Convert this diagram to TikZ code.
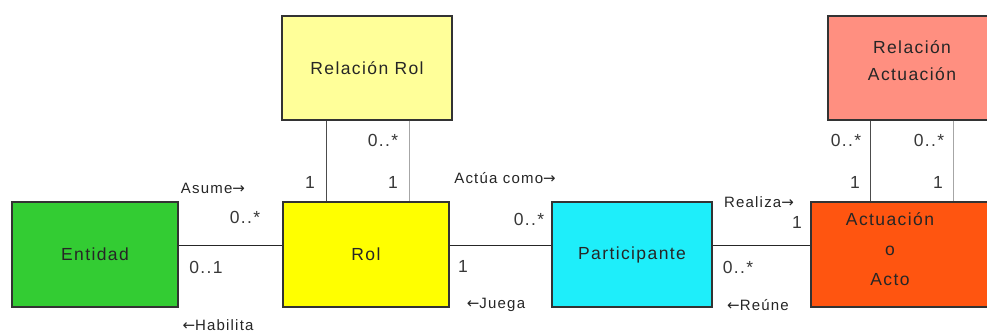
\documentclass[tikz,border=0pt]{standalone}
\usepackage{fontspec}
\setmainfont[LetterSpace=8]{Liberation Sans}
\newfontfamily\arrowfont{DejaVu Sans}
\newcommand\rarr{{\arrowfont\char"2192}}
\newcommand\larr{{\arrowfont\char"2190}}
\definecolor{entgreen}{HTML}{33CC33}
\definecolor{rolyellow}{HTML}{FFFF00}
\definecolor{partcyan}{HTML}{1EEEFA}
\definecolor{actorange}{HTML}{FF5510}
\definecolor{relyellow}{HTML}{FFFF99}
\definecolor{relsalmon}{HTML}{FF8F80}
\begin{document}
\begin{tikzpicture}[x=1pt,y=-1pt,
  classbox/.style={draw=black!80, line width=1.1pt, minimum height=105pt,
    inner sep=0pt, font=\fontsize{17.5}{20}\selectfont, text=black!85},
  boxtext/.style={inner sep=0pt, align=center, text=black!85},
  mult/.style={inner sep=0pt, font=\fontsize{17.5}{20}\selectfont, text=black!78},
  rolename/.style={inner sep=0pt, font=\fontsize{15}{18}\selectfont, text=black!85},
  assoc/.style={draw=black!85, line width=1pt},
  darkleg/.style={draw=black!70, line width=1pt},
  lightleg/.style={draw=black!35, line width=1pt}]

\useasboundingbox (0,0) rectangle (987,333);
\clip (0,0) rectangle (987,333);
\fill[white] (0,0) rectangle (987,333);

% classes
\node[classbox, fill=entgreen, minimum width=166pt] (entidad) at (95,254.5) {Entidad};
\node[classbox, fill=rolyellow, minimum width=166pt] (rol) at (366,254.5) {Rol};
\node[classbox, fill=partcyan, minimum width=160pt] (part) at (632,254.5) {Participante};
\node[classbox, fill=actorange, minimum width=190pt] (acto) at (906,254.5) {};
\node[boxtext, font=\fontsize{17.5}{30}\selectfont] (actotxt) at (890,249) {Actuación\\o\\Acto};
\node[classbox, fill=relyellow, minimum width=170pt, minimum height=104pt] (relrol) at (367,68) {Relación Rol};
\node[classbox, fill=relsalmon, minimum width=172pt, minimum height=104pt] (relact) at (914,68) {};
\node[boxtext, font=\fontsize{17.5}{27}\selectfont] (relacttxt) at (912,61) {Relación\\Actuación};

% associations
\draw[assoc] ([yshift=9.5pt]entidad.east) -- ([yshift=9.5pt]rol.west);
\draw[assoc] ([yshift=9.5pt]rol.east) -- ([yshift=9.5pt]part.west);
\draw[assoc] ([yshift=9.5pt]part.east) -- ([yshift=9.5pt]acto.west);
\draw[darkleg] ([xshift=45pt]relrol.south west) -- ([xshift=44pt]rol.north west);
\draw[lightleg] ([xshift=128pt]relrol.south west) -- ([xshift=127pt]rol.north west);
\draw[darkleg] ([xshift=43pt]relact.south west) -- ([xshift=60pt]acto.north west);
\draw[lightleg] ([xshift=126pt]relact.south west) -- ([xshift=143pt]acto.north west);

% Entidad -- Rol
\node[rolename] (asume) at (213,188) {Asume\rarr};
\node[mult] (m1) at (245,217) {0..*};
\node[mult] (m2) at (206,267) {0..1};
\node[rolename] (habilita) at (218,325) {\larr Habilita};

% Relación Rol -- Rol
\node[mult] (m3) at (310,182) {1};
\node[mult] (m4) at (393,182) {1};
\node[mult] (m5) at (383,140) {0..*};

% Rol -- Participante
\node[rolename] (actua) at (505,178) {Actúa como\rarr};
\node[mult] (m6) at (529,219) {0..*};
\node[mult] (m7) at (463,266) {1};
\node[rolename] (juega) at (496,305) {\larr Juega};

% Participante -- Actuación
\node[rolename] (realiza) at (759,202) {Realiza\rarr};
\node[mult] (m8) at (797,222) {1};
\node[mult] (m9) at (738,267) {0..*};
\node[rolename] (reune) at (758,305) {\larr Reúne};

% Relación Actuación -- Actuación
\node[mult] (m10) at (846,140) {0..*};
\node[mult] (m11) at (855,182) {1};
\node[mult] (m12) at (929,140) {0..*};
\node[mult] (m13) at (938,182) {1};
\end{tikzpicture}
\end{document}
